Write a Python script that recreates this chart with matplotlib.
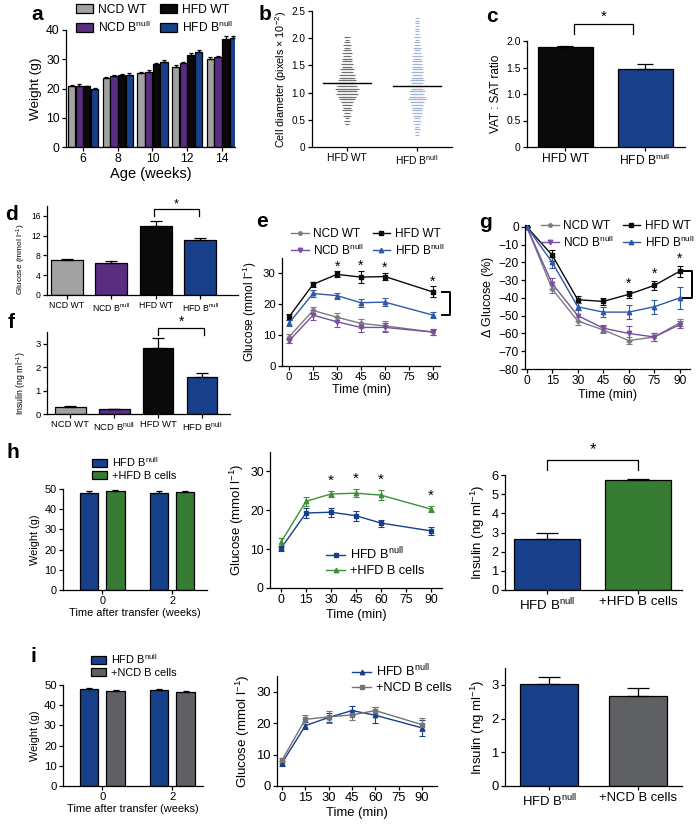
import numpy as np
import matplotlib
matplotlib.use("Agg")
import matplotlib.pyplot as plt
from matplotlib.patches import Patch
from matplotlib.lines import Line2D

plt.rcParams['font.family'] = ['Liberation Sans', 'DejaVu Sans']
plt.rcParams['mathtext.fontset'] = 'custom'
plt.rcParams['mathtext.rm'] = 'Liberation Sans'
plt.rcParams['mathtext.it'] = 'Liberation Sans:italic'
plt.rcParams['mathtext.bf'] = 'Liberation Sans:bold'
plt.rcParams['axes.linewidth'] = 0.9

W, H = 699, 826

GRAY = '#a2a2a2'
PURPLE = '#5a2d82'
BLACK = '#0a0a0a'
BLUE = '#173f8a'
GREEN = '#367c33'
DGRAY = '#5e6064'
LBLUE = '#9fb2d8'
LGRAY = '#7d7d7d'
LPURPLE = '#7a4fa0'
MBLUE = '#2f5aa6'
BN = r'B$^{\mathrm{null}}$'

# ---- panel a: body weight ----
weeks = [6, 8, 10, 12, 14]
a_ncd_wt = [21.0, 23.5, 25.2, 27.2, 30.0]
a_ncd_wt_err = [0.3, 0.3, 0.4, 0.8, 0.9]
a_ncd_bn = [20.9, 24.3, 25.8, 28.6, 30.6]
a_ncd_bn_err = [0.8, 0.4, 0.6, 0.4, 0.6]
a_hfd_wt = [20.7, 24.6, 28.4, 31.5, 36.9]
a_hfd_wt_err = [0.3, 0.5, 0.4, 0.8, 1.0]
a_hfd_bn = [20.0, 24.6, 29.1, 32.4, 37.3]
a_hfd_bn_err = [0.2, 0.6, 0.5, 0.8, 0.7]

# ---- panel b: cell diameter (counts per 0.05 bin) ----
b_groups = ['HFD WT', 'HFD ' + BN]
b_means = [1.18, 1.13]
b_bin = 0.05
b_wt_start = 0.40
b_wt_counts = [1, 2, 1, 3, 2, 4, 3, 5, 6, 8, 9, 12, 11, 13, 10, 12, 9, 8,
               8, 6, 7, 5, 6, 4, 5, 3, 4, 3, 2, 3, 2, 1, 2]
b_bn_start = 0.20
b_bn_counts = [1, 1, 2, 1, 2, 3, 2, 3, 4, 5, 4, 6, 7, 9, 8, 7, 8, 6, 5, 6,
               7, 6, 5, 6, 4, 5, 4, 5, 3, 4, 3, 2, 3, 2, 2, 1, 2, 1, 1, 1,
               1, 1, 1, 1]

# ---- panel c: VAT:SAT ----
c_groups = ['HFD WT', 'HFD ' + BN]
c_vals = [1.88, 1.47]
c_err = [0.02, 0.09]

# ---- panels d, f ----
df_groups = ['NCD WT', 'NCD ' + BN, 'HFD WT', 'HFD ' + BN]
df_colors = [GRAY, PURPLE, BLACK, BLUE]
d_vals = [7.1, 6.5, 14.0, 11.2]
d_err = [0.25, 0.45, 1.0, 0.4]
f_vals = [0.28, 0.20, 2.82, 1.57]
f_err = [0.07, 0.03, 0.42, 0.18]

# ---- panel e: GTT ----
e_time = [0, 15, 30, 45, 60, 90]
e_ncd_wt = [9.5, 18.0, 15.8, 13.8, 13.0, 11.0]
e_ncd_wt_err = [0.8, 1.0, 1.5, 1.5, 1.5, 1.0]
e_ncd_bn = [8.2, 16.5, 14.3, 12.5, 12.5, 11.0]
e_ncd_bn_err = [0.8, 1.5, 1.5, 1.5, 1.5, 1.0]
e_hfd_wt = [16.0, 26.5, 29.7, 28.8, 29.0, 24.0]
e_hfd_wt_err = [1.0, 0.8, 1.0, 2.0, 1.2, 1.8]
e_hfd_bn = [14.0, 23.5, 22.8, 20.5, 20.7, 16.5]
e_hfd_bn_err = [1.0, 1.2, 1.0, 1.3, 1.2, 1.0]
e_star_times = [30, 45, 60, 90]

# ---- panel g: ITT ----
g_time = [0, 15, 30, 45, 60, 75, 90]
g_ncd_wt = [0, -35, -53, -58, -64, -62, -54]
g_ncd_wt_err = [0, 2, 2, 2, 2, 2, 2]
g_ncd_bn = [0, -32, -50, -57, -60, -62, -55]
g_ncd_bn_err = [0, 3, 3, 2, 4, 2, 2]
g_hfd_wt = [0, -16, -41, -42, -38, -33, -25]
g_hfd_wt_err = [0, 3, 2, 2, 2, 2.5, 3]
g_hfd_bn = [0, -20, -45, -48, -48, -45, -40]
g_hfd_bn_err = [0, 3, 2, 3, 4, 4, 6]
g_star_times = [60, 75, 90]

# ---- panel h ----
transfer_weeks = ['0', '2']
h_bn_wt = [48.0, 48.1]
h_bn_wt_err = [1.0, 0.7]
h_b_wt = [48.9, 48.4]
h_b_wt_err = [0.7, 0.5]
h_time = [0, 15, 30, 45, 60, 90]
h_bn_glu = [10.2, 19.3, 19.5, 18.6, 16.7, 14.7]
h_bn_glu_err = [0.6, 1.3, 1.2, 1.3, 0.9, 1.0]
h_b_glu = [11.8, 22.3, 24.2, 24.4, 23.9, 20.3]
h_b_glu_err = [1.0, 1.2, 0.8, 1.0, 1.3, 0.8]
h_star_times = [30, 45, 60, 90]
h_ins_groups = ['HFD ' + BN, '+HFD B cells']
h_ins = [2.68, 5.75]
h_ins_err = [0.3, 0.05]

# ---- panel i ----
i_bn_wt = [48.2, 47.7]
i_bn_wt_err = [0.5, 0.5]
i_n_wt = [46.8, 46.7]
i_n_wt_err = [0.6, 0.4]
i_time = [0, 15, 30, 45, 60, 90]
i_bn_glu = [7.3, 19.2, 21.8, 24.0, 22.5, 18.5]
i_bn_glu_err = [0.8, 1.2, 1.5, 1.5, 2.5, 2.5]
i_n_glu = [8.2, 21.2, 22.0, 22.6, 24.0, 19.5]
i_n_glu_err = [0.8, 1.5, 2.0, 1.5, 1.0, 2.0]
i_ins_groups = ['HFD ' + BN, '+NCD B cells']
i_ins = [3.02, 2.67]
i_ins_err = [0.22, 0.25]

fig = plt.figure(figsize=(W / 100, H / 100), dpi=100)


def px_axes(l, t, r, b):
    return fig.add_axes([l / W, 1 - b / H, (r - l) / W, (b - t) / H])


def prism(ax, fs=8.5):
    for s in ['top', 'right']:
        ax.spines[s].set_visible(False)
    ax.tick_params(direction='out', length=3, width=0.9, labelsize=fs, pad=1.5)


def bars(ax, x, vals, err, colors, width, cap=3):
    ax.bar(x, vals, width, color=colors, edgecolor='black', linewidth=0.9, zorder=2)
    ax.errorbar(x, vals, yerr=[np.zeros(len(vals)), err], fmt='none', ecolor='black',
                elinewidth=0.9, capsize=cap, capthick=0.9, zorder=3)


def bracket(ax, x0, x1, ylow, ytop, ystar, fs=10):
    ax.plot([x0, x0, x1, x1], [ylow, ytop, ytop, ylow], color='black', lw=0.9, clip_on=False)
    ax.text((x0 + x1) / 2, ystar, '*', ha='center', va='center', fontsize=fs)


def curve(ax, t, y, err, color, marker, ms=3.5):
    ax.errorbar(t, y, yerr=err, color=color, marker=marker, ms=ms, lw=1.0,
                elinewidth=0.8, capsize=2, capthick=0.8)
    return Line2D([], [], color=color, marker=marker, ms=ms, lw=1.0)


def flegend(handles, labels, x, y, fs=8.5, ncol=1, spacing=0.3, **kw):
    fig.legend(handles, labels, loc='upper left', bbox_to_anchor=(x / W, 1 - y / H),
               frameon=False, borderpad=0, borderaxespad=0, fontsize=fs, ncol=ncol,
               handletextpad=0.4, labelspacing=spacing, **kw)


def label(x, y, s):
    fig.text(x / W, 1 - y / H, s, fontsize=15, fontweight='bold', ha='center', va='center')


# ---------------- a ----------------
ax = px_axes(66, 30, 235, 147)
prism(ax, 8.7)
wk = np.array(weeks)
bw = 0.42
a_series = [(a_ncd_wt, a_ncd_wt_err, GRAY), (a_ncd_bn, a_ncd_bn_err, PURPLE),
            (a_hfd_wt, a_hfd_wt_err, BLACK), (a_hfd_bn, a_hfd_bn_err, BLUE)]
for k, (v, e, c) in enumerate(a_series):
    bars(ax, wk + (k - 1.5) * bw * 1.05, v, e, c, bw, cap=1.5)
ax.set_xlim(5.02, 14.75)
ax.set_ylim(0, 40)
ax.set_xticks(weeks)
ax.set_yticks([0, 10, 20, 30, 40])
ax.set_xlabel('Age (weeks)', fontsize=10.5, labelpad=1)
ax.set_ylabel('Weight (g)', fontsize=9.7, labelpad=3)
hs = [Patch(facecolor=c, edgecolor='black', lw=0.9) for c in [GRAY, PURPLE, BLACK, BLUE]]
flegend(hs, ['NCD WT', 'NCD ' + BN, 'HFD WT', 'HFD ' + BN], 76, 4, fs=8.7, ncol=2,
        handlelength=1.4, handleheight=0.8, columnspacing=0.8)
label(37, 15, 'a')

# ---------------- b ----------------
ax = px_axes(312, 11, 452, 147)
prism(ax, 7.2)
dx = 0.024
for pos, start, counts, col in [(0, b_wt_start, b_wt_counts, '#6f6f6f'),
                                (1, b_bn_start, b_bn_counts, LBLUE)]:
    for i, n in enumerate(counts):
        yv = start + (i + 0.5) * b_bin
        xs = pos + (np.arange(n) - (n - 1) / 2) * dx
        ax.plot(xs, np.full(n, yv), ls='none', marker='_', ms=2.6, mew=0.8, color=col)
for pos, m in enumerate(b_means):
    ax.plot([pos - 0.34, pos + 0.34], [m, m], color='black', lw=1.0)
ax.set_xlim(-0.5, 1.5)
ax.set_ylim(0, 2.5)
ax.set_xticks([0, 1])
ax.set_xticklabels(b_groups, fontsize=7.4)
ax.set_yticks([0, 0.5, 1.0, 1.5, 2.0, 2.5])
ax.set_yticklabels(['0', '0.5', '1.0', '1.5', '2.0', '2.5'])
ax.set_ylabel(r'Cell diameter (pixels $\times$ 10$^{-2}$)', fontsize=7.8, labelpad=2)
label(265, 15, 'b')

# ---------------- c ----------------
ax = px_axes(527, 41, 685, 147)
prism(ax, 7.5)
bars(ax, [0, 1], c_vals, c_err, [BLACK, BLUE], 0.69, cap=6)
ax.set_xlim(-0.48, 1.5)
ax.set_ylim(0, 2.0)
ax.set_xticks([0, 1])
ax.set_xticklabels(c_groups, fontsize=8.7)
ax.set_yticks([0, 0.5, 1.0, 1.5, 2.0])
ax.set_yticklabels(['0', '0.5', '1.0', '1.5', '2.0'])
ax.set_ylabel('VAT : SAT ratio', fontsize=8.5, labelpad=3)
bracket(ax, 0.11, 0.85, 2.14, 2.33, 2.45, fs=11)
label(492, 17, 'c')

# ---------------- d ----------------
ax = px_axes(47, 206, 238, 295)
prism(ax, 6.2)
bars(ax, range(4), d_vals, d_err, df_colors, 0.72, cap=4)
ax.set_xlim(-0.45, 3.85)
ax.set_ylim(0, 18)
ax.set_xticks(range(4))
ax.set_xticklabels(df_groups, fontsize=6.3)
ax.set_yticks([0, 4, 8, 12, 16])
ax.set_ylabel('Glucose (mmol l$^{-1}$)', fontsize=6.0)
ax.yaxis.set_label_coords(-0.098, 0.4)
bracket(ax, 1.95, 2.97, 16.0, 17.3, 18.4, fs=9)
label(11, 214, 'd')

# ---------------- f ----------------
ax = px_axes(47, 332, 230, 414)
prism(ax, 6.8)
bars(ax, range(4), f_vals, f_err, df_colors, 0.7, cap=4)
ax.set_xlim(-0.53, 3.64)
ax.set_ylim(0, 3.5)
ax.set_xticks(range(4))
ax.set_xticklabels(df_groups, fontsize=6.8)
ax.set_yticks([0, 1, 2, 3])
ax.set_ylabel('Insulin (ng ml$^{-1}$)', fontsize=6.3)
ax.yaxis.set_label_coords(-0.105, 0.38)
bracket(ax, 2.0, 3.05, 3.39, 3.69, 3.92, fs=10)
label(11, 322, 'f')

# ---------------- e ----------------
ax = px_axes(282, 258, 440, 366)
prism(ax, 8.2)
hs = [curve(ax, e_time, e_ncd_wt, e_ncd_wt_err, LGRAY, 'o', ms=2.5),
      curve(ax, e_time, e_ncd_bn, e_ncd_bn_err, LPURPLE, 'v', ms=3.2),
      curve(ax, e_time, e_hfd_wt, e_hfd_wt_err, BLACK, 's', ms=3.2),
      curve(ax, e_time, e_hfd_bn, e_hfd_bn_err, MBLUE, '^', ms=3.2)]
for t in e_star_times:
    k = e_time.index(t)
    ax.text(t, e_hfd_wt[k] + e_hfd_wt_err[k] + 1.6, '*', ha='center', va='center', fontsize=10)
ax.plot([96, 101, 101, 96], [e_hfd_wt[-1], e_hfd_wt[-1], e_hfd_bn[-1], e_hfd_bn[-1]],
        color='black', lw=1.4, clip_on=False)
ax.set_xlim(-4.5, 94.5)
ax.set_ylim(0, 35)
ax.set_xticks([0, 15, 30, 45, 60, 75, 90])
ax.set_yticks([0, 10, 20, 30])
ax.set_xlabel('Time (min)', fontsize=9, labelpad=1)
ax.set_ylabel('Glucose (mmol l$^{-1}$)', fontsize=8.6, labelpad=3)
flegend(hs, ['NCD WT', 'NCD ' + BN, 'HFD WT', 'HFD ' + BN], 291, 228, ncol=2,
        spacing=0.2, handlelength=1.5, columnspacing=0.7)
label(262, 222, 'e')

# ---------------- g ----------------
ax = px_axes(525, 225, 690, 369)
prism(ax, 8.6)
hs = [curve(ax, g_time, g_ncd_wt, g_ncd_wt_err, LGRAY, 'o', ms=2.5),
      curve(ax, g_time, g_ncd_bn, g_ncd_bn_err, LPURPLE, 'v', ms=3.2),
      curve(ax, g_time, g_hfd_wt, g_hfd_wt_err, BLACK, 's', ms=3.2),
      curve(ax, g_time, g_hfd_bn, g_hfd_bn_err, MBLUE, '^', ms=3.2)]
for t in g_star_times:
    k = g_time.index(t)
    ax.text(t, g_hfd_wt[k] + g_hfd_wt_err[k] + 4.0, '*', ha='center', va='center', fontsize=10)
ax.plot([92, 97, 97, 92], [g_hfd_wt[-1], g_hfd_wt[-1], g_hfd_bn[-1], g_hfd_bn[-1]],
        color='black', lw=1.4, clip_on=False)
ax.set_xlim(-1, 96)
ax.set_ylim(-80, 1)
ax.set_xticks([0, 15, 30, 45, 60, 75, 90])
ax.set_yticks(list(range(-80, 1, 10)))
ax.set_xlabel('Time (min)', fontsize=9, labelpad=1)
ax.set_ylabel(r'$\Delta$ Glucose (%)', fontsize=9, labelpad=2)
flegend(hs, ['NCD WT', 'NCD ' + BN, 'HFD WT', 'HFD ' + BN], 541, 220, ncol=2,
        spacing=0.2, handlelength=1.5, columnspacing=0.7)
label(485, 223, 'g')

# ---------------- h ----------------
ax = px_axes(63, 489, 207, 590)
prism(ax, 7.8)
xw = np.arange(2)
bars(ax, xw - 0.19, h_bn_wt, h_bn_wt_err, BLUE, 0.26, cap=2.5)
bars(ax, xw + 0.19, h_b_wt, h_b_wt_err, GREEN, 0.26, cap=2.5)
ax.set_xlim(-0.56, 1.5)
ax.set_ylim(0, 50)
ax.set_xticks(xw)
ax.set_xticklabels(transfer_weeks)
ax.set_yticks([0, 10, 20, 30, 40, 50])
ax.set_xlabel('Time after transfer (weeks)', fontsize=7.9, labelpad=1)
ax.set_ylabel('Weight (g)', fontsize=7.9, labelpad=3)
hs = [Patch(facecolor=c, edgecolor='black', lw=0.9) for c in [BLUE, GREEN]]
flegend(hs, ['HFD ' + BN, '+HFD B cells'], 92, 455, fs=7.9, spacing=0.2,
        handlelength=1.4, handleheight=0.8)
label(13, 452, 'h')

ax = px_axes(270, 452, 442, 588)
prism(ax, 8.8)
hs = [curve(ax, h_time, h_bn_glu, h_bn_glu_err, BLUE, 's', ms=3.2),
      curve(ax, h_time, h_b_glu, h_b_glu_err, '#3f8f3a', '^', ms=3.2)]
for t in h_star_times:
    k = h_time.index(t)
    ax.text(t, h_b_glu[k] + h_b_glu_err[k] + 2.6, '*', ha='center', va='center', fontsize=11)
ax.set_xlim(-6.6, 96.6)
ax.set_ylim(0, 35)
ax.set_xticks([0, 15, 30, 45, 60, 75, 90])
ax.set_yticks([0, 10, 20, 30])
ax.set_xlabel('Time (min)', fontsize=9.2, labelpad=2)
ax.set_ylabel('Glucose (mmol l$^{-1}$)', fontsize=9.5, labelpad=3)
flegend(hs, ['HFD ' + BN, '+HFD B cells'], 326, 546, fs=9.2, spacing=0.2,
        handlelength=1.5)

ax = px_axes(505, 475, 682, 590)
prism(ax, 9.2)
bars(ax, [0, 1], h_ins, h_ins_err, [BLUE, GREEN], 0.72, cap=8)
ax.set_xlim(-0.46, 1.48)
ax.set_ylim(0, 6)
ax.set_xticks([0, 1])
ax.set_xticklabels(h_ins_groups, fontsize=9.6)
ax.set_yticks(range(7))
ax.set_ylabel('Insulin (ng ml$^{-1}$)', fontsize=9.5, labelpad=3)
bracket(ax, 0.0, 1.0, 6.26, 6.78, 7.3, fs=12)

# ---------------- i ----------------
ax = px_axes(63, 685, 203, 786)
prism(ax, 8.2)
bars(ax, xw - 0.19, i_bn_wt, i_bn_wt_err, BLUE, 0.26, cap=2.5)
bars(ax, xw + 0.19, i_n_wt, i_n_wt_err, DGRAY, 0.26, cap=2.5)
ax.set_xlim(-0.56, 1.44)
ax.set_ylim(0, 50)
ax.set_xticks(xw)
ax.set_xticklabels(transfer_weeks)
ax.set_yticks([0, 10, 20, 30, 40, 50])
ax.set_xlabel('Time after transfer (weeks)', fontsize=7.9, labelpad=1)
ax.set_ylabel('Weight (g)', fontsize=7.9, labelpad=3)
hs = [Patch(facecolor=c, edgecolor='black', lw=0.9) for c in [BLUE, DGRAY]]
flegend(hs, ['HFD ' + BN, '+NCD B cells'], 91, 652, fs=7.9, spacing=0.2,
        handlelength=1.4, handleheight=0.8)
label(33, 657, 'i')

ax = px_axes(277, 676, 437, 786)
prism(ax, 9.4)
hs = [curve(ax, i_time, i_bn_glu, i_bn_glu_err, BLUE, '^', ms=3.2),
      curve(ax, i_time, i_n_glu, i_n_glu_err, '#747474', 's', ms=3.2)]
ax.set_xlim(-3.2, 99.6)
ax.set_ylim(0, 35)
ax.set_xticks([0, 15, 30, 45, 60, 75, 90])
ax.set_yticks([0, 10, 20, 30])
ax.set_xlabel('Time (min)', fontsize=9.4, labelpad=2)
ax.set_ylabel('Glucose (mmol l$^{-1}$)', fontsize=9.6, labelpad=3)
flegend(hs, ['HFD ' + BN, '+NCD B cells'], 352, 663, fs=9.2, spacing=0.2,
        handlelength=1.5)

ax = px_axes(505, 668, 682, 786)
prism(ax, 9.4)
bars(ax, [0, 1], i_ins, i_ins_err, [BLUE, DGRAY], 0.66, cap=8)
ax.set_xlim(-0.5, 1.5)
ax.set_ylim(0, 3.5)
ax.set_xticks([0, 1])
ax.set_xticklabels(i_ins_groups, fontsize=9.4)
ax.set_yticks([0, 1, 2, 3])
ax.set_ylabel('Insulin (ng ml$^{-1}$)', fontsize=9.5, labelpad=3)

fig.savefig('out.png', dpi=100)
